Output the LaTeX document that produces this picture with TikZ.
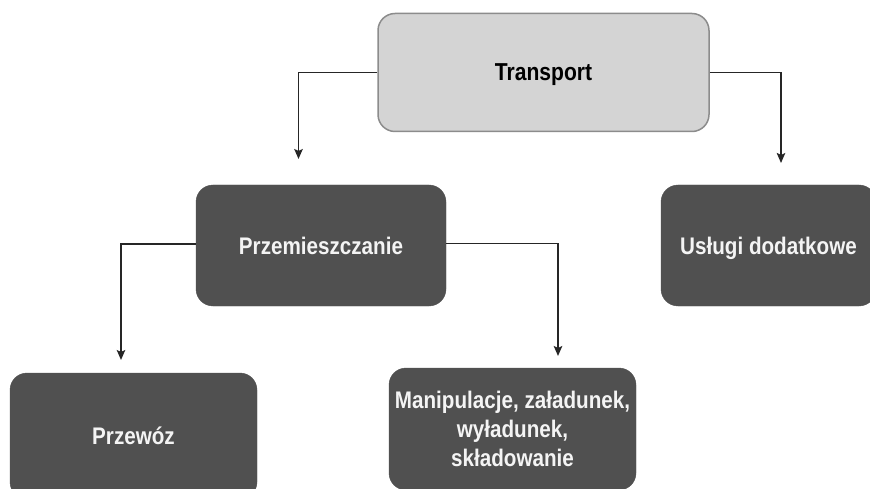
\documentclass[tikz,border=0pt]{standalone}
\usepackage{fontspec}
\setmainfont{Liberation Sans}
\newfontfamily\condfont[FakeStretch=0.86]{Liberation Sans}
\usetikzlibrary{arrows.meta}
\definecolor{lightfill}{HTML}{D4D4D4}
\definecolor{lightedge}{HTML}{8C8C8C}
\definecolor{darkfill}{HTML}{505050}
\definecolor{linec}{HTML}{262626}
\definecolor{whitetext}{HTML}{F4F4F4}
\tikzset{
  basebox/.style={rounded corners=17pt, align=center, inner sep=0pt, text depth=0pt,
    font=\condfont\bfseries\fontsize{24}{29}\selectfont},
  topbox/.style={basebox, fill=lightfill, draw=lightedge, line width=1.5pt, text=black},
  dbox/.style={basebox, fill=darkfill, draw=darkfill, text=whitetext},
  conn/.style={draw=linec, line width=1.8pt, -{Stealth[length=10pt,width=8.5pt,inset=2pt]}}
}
\begin{document}
\begin{tikzpicture}[x=1pt,y=-1pt]
\useasboundingbox (0,0) rectangle (870,489);
\fill[white] (0,0) rectangle (870,489);

\node[topbox, minimum width=331pt, minimum height=118pt,
  font=\condfont\bfseries\fontsize{24.5}{29}\selectfont] (T) at (543.5,72.5) {Transport};
\node[dbox, minimum width=250pt, minimum height=121pt] (P) at (321,245.5) {Przemieszczanie};
\node[dbox, minimum width=215pt, minimum height=121pt] (U) at (768.5,245.5) {Usługi dodatkowe};
\node[dbox, minimum width=247pt, minimum height=126pt] (W) at (133.5,436) {Przewóz};
\node[dbox, minimum width=247pt, minimum height=122pt] (M) at (512.5,429) {Manipulacje, załadunek,\\wyładunek,\\składowanie};

\coordinate (tl) at (298.5,159);
\coordinate (tr) at (781,163);
\coordinate (pl) at (121,360);
\coordinate (pr) at (558,356);

\draw[conn] (T.west) -| (tl);
\draw[conn] (T.east) -| (tr);
\draw[conn] ([yshift=1.5pt]P.west) -| (pl);
\draw[conn] ([yshift=2pt]P.east) -| (pr);
\end{tikzpicture}
\end{document}
